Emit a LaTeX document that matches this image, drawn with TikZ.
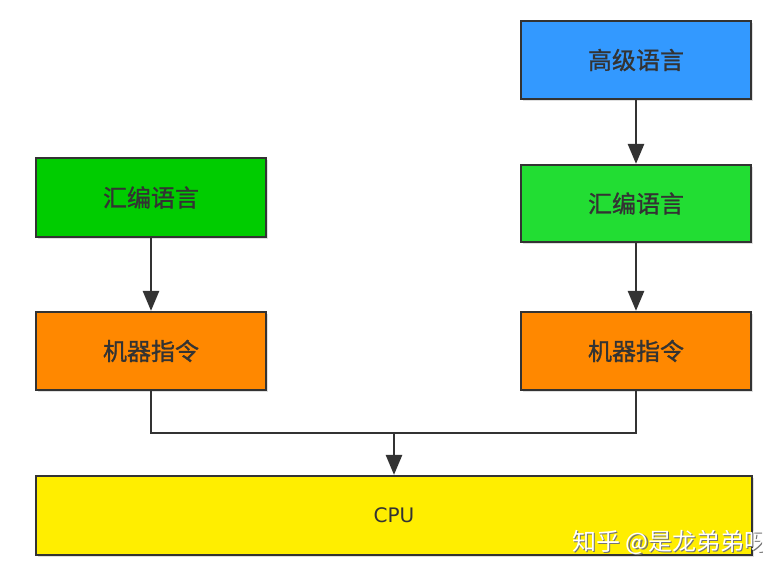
\documentclass[tikz,border=0pt]{standalone}
\usepackage{fontspec}
\newfontfamily\cjk[FakeBold=1.2]{Noto Sans CJK SC}
\newfontfamily\cjkw{Noto Sans CJK SC}
\newfontfamily\latf{DejaVu Sans}
\usetikzlibrary{arrows.meta,shadows}
\definecolor{edgec}{HTML}{333333}
\definecolor{txtc}{HTML}{333333}
\definecolor{blueb}{HTML}{3399FF}
\definecolor{greenL}{HTML}{00CC00}
\definecolor{greenR}{HTML}{22DD33}
\definecolor{orangeb}{HTML}{FF8800}
\definecolor{yellowb}{HTML}{FFEE00}
\begin{document}
\begin{tikzpicture}[x=1pt,y=-1pt,
  box/.style={draw=edgec, line width=2.2pt, minimum width=230pt, minimum height=78pt,
    inner sep=0pt, text=txtc, font=\cjk\fontsize{24}{24}\selectfont,
    drop shadow={opacity=0.25, shadow xshift=1.5pt, shadow yshift=-1.5pt}},
  conn/.style={draw=edgec, line width=2.6pt},
  arr/.style={conn, -{Triangle[width=16pt,length=20pt]}},
  wm/.style={font=\cjkw\fontsize{24}{24}\selectfont, anchor=west, inner sep=0pt}]
\fill[white] (0,0) rectangle (763,562);
\useasboundingbox (0,0) rectangle (763,562);
\node[box, fill=blueb] (hl) at (636,60) {高级语言};
\node[box, fill=greenR, minimum height=77pt] (asmR) at (636,203.5) {汇编语言};
\node[box, fill=orangeb] (mcR) at (636,351) {机器指令};
\node[box, fill=greenL, minimum height=79pt] (asmL) at (151,197.5) {汇编语言};
\node[box, fill=orangeb] (mcL) at (151,351) {机器指令};
\node[box, fill=yellowb, minimum width=716pt, minimum height=79pt, font=\latf\fontsize{20}{20}\selectfont] (cpu) at (394,515.5) {CPU};
\coordinate (join) at (394,433);
\draw[arr] (hl) -- (asmR);
\draw[arr] (asmR) -- (mcR);
\draw[arr] (asmL) -- (mcL);
\draw[conn] (mcL.south) |- (join) -| (mcR.south);
\draw[arr] (join) -- (cpu.north);
\begin{scope}
\clip (0,0) rectangle (763,562);
\node[wm, text=black!55] (wms) at (573.5,543.5) {知乎 @是龙弟弟呀};
\node[wm, text=white] (wmt) at (572,542) {知乎 @是龙弟弟呀};
\end{scope}
\end{tikzpicture}
\end{document}
